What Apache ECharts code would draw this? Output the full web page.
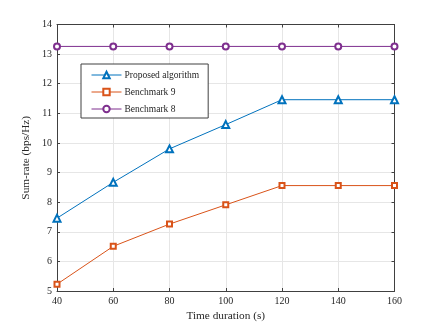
<!DOCTYPE html>
<html>
<head>
<meta charset="utf-8">
<script src="https://cdn.jsdelivr.net/npm/echarts@6/dist/echarts.min.js"></script>
<style>
  html, body { margin: 0; padding: 0; background: #fff; }
  #chart { width: 436px; height: 327px; }
</style>
</head>
<body>
<div id="chart"></div>
<script>
// time durations (s)
const timeDuration = [40, 60, 80, 100, 120, 140, 160]
const proposed = [7.46, 8.67, 9.8, 10.62, 11.46, 11.46, 11.46]
const benchmark9 = [5.23, 6.51, 7.26, 7.91, 8.56, 8.56, 8.56]
const benchmark8 = [13.26, 13.26, 13.26, 13.26, 13.26, 13.26, 13.26]

const FONT = '"Liberation Serif", "Times New Roman", serif'
const AXIS_COLOR = '#404040'
const pairs = (ys) => timeDuration.map((x, i) => [x, ys[i]])

const chart = echarts.init(document.getElementById('chart'), null, { renderer: 'canvas' })

const mirrorAxis = {
  axisLine: { show: true, lineStyle: { color: AXIS_COLOR, width: 1 } },
  axisTick: { show: true, inside: true, length: 3, lineStyle: { color: AXIS_COLOR } },
  axisLabel: { show: false },
  splitLine: { show: false },
}

chart.setOption({
  animation: false,
  textStyle: { fontFamily: FONT },
  grid: { left: 57, right: 41.5, top: 24.5, bottom: 36 },
  legend: {
    orient: 'vertical',
    left: 81,
    top: 64,
    padding: [6, 9, 4, 10],
    itemGap: 7,
    itemWidth: 30,
    itemHeight: 8,
    backgroundColor: '#fff',
    borderColor: '#404040',
    borderWidth: 1,
    lineStyle: { width: 1 },
    textStyle: { fontFamily: FONT, fontSize: 9.5, color: '#262626', padding: [0, 0, 0, -2] },
    data: ['Proposed algorithm', 'Benchmark 9', 'Benchmark 8'],
  },
  xAxis: [
    {
      type: 'value',
      min: 40,
      max: 160,
      interval: 20,
      name: 'Time duration (s)',
      nameLocation: 'middle',
      nameGap: 20,
      nameTextStyle: { fontFamily: FONT, fontSize: 11.3, color: '#262626' },
      axisLine: { show: true, onZero: false, lineStyle: { color: AXIS_COLOR, width: 1 } },
      axisTick: { show: true, inside: true, length: 3, lineStyle: { color: AXIS_COLOR } },
      axisLabel: { fontFamily: FONT, fontSize: 10, color: '#262626', margin: 5 },
      splitLine: { show: true, lineStyle: { color: '#e6e6e6', width: 1 } },
    },
    Object.assign({ type: 'value', min: 40, max: 160, interval: 20, position: 'top' }, mirrorAxis),
  ],
  yAxis: [
    {
      type: 'value',
      min: 5,
      max: 14,
      interval: 1,
      name: 'Sum-rate (bps/Hz)',
      nameLocation: 'middle',
      nameGap: 20,
      nameTextStyle: { fontFamily: FONT, fontSize: 11.3, color: '#262626' },
      axisLine: { show: true, onZero: false, lineStyle: { color: AXIS_COLOR, width: 1 } },
      axisTick: { show: true, inside: true, length: 3, lineStyle: { color: AXIS_COLOR } },
      axisLabel: { fontFamily: FONT, fontSize: 10, color: '#262626', margin: 5 },
      splitLine: { show: true, lineStyle: { color: '#e6e6e6', width: 1 } },
    },
    Object.assign({ type: 'value', min: 5, max: 14, interval: 1, position: 'right' }, mirrorAxis),
  ],
  series: [
    {
      name: 'Proposed algorithm',
      type: 'line',
      data: pairs(proposed),
      symbol: 'emptyTriangle',
      symbolSize: 7,
      color: '#0072BD',
      lineStyle: { width: 1 },
      itemStyle: { borderWidth: 1 },
    },
    {
      name: 'Benchmark 9',
      type: 'line',
      data: pairs(benchmark9),
      symbol: 'emptyRect',
      symbolSize: 5,
      color: '#D95319',
      lineStyle: { width: 1 },
      itemStyle: { borderWidth: 1 },
    },
    {
      name: 'Benchmark 8',
      type: 'line',
      data: pairs(benchmark8),
      symbol: 'emptyCircle',
      symbolSize: 6,
      color: '#7E2F8E',
      lineStyle: { width: 1 },
      itemStyle: { borderWidth: 1 },
    },
  ],
})
</script>
</body>
</html>
